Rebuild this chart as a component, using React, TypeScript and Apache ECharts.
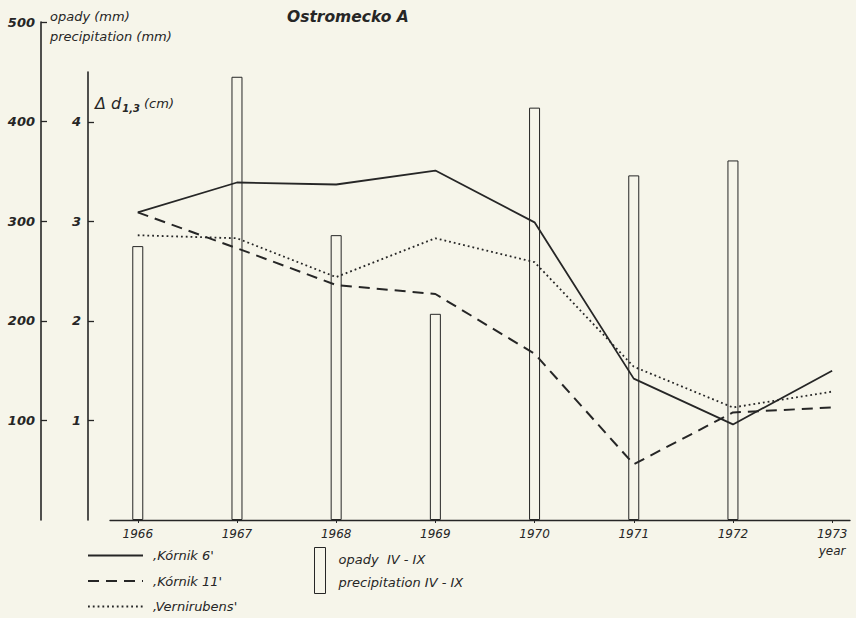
import React, { useEffect, useRef } from "react";
import * as echarts from "echarts";

const years = [1966, 1967, 1968, 1969, 1970, 1971, 1972, 1973];
const yearLabels = ["1966", "1967", "1968", "1969", "1970", "1971", "1972", "1973"];
const precipYears = [1966, 1967, 1968, 1969, 1970, 1971, 1972];
const precipitation = [275, 445, 286, 207, 414, 346, 361];
const kornik6 = [3.09, 3.39, 3.37, 3.51, 2.99, 1.42, 0.96, 1.5];
const kornik11 = [3.09, 2.73, 2.36, 2.27, 1.67, 0.56, 1.08, 1.13];
const vernirubens = [2.86, 2.83, 2.44, 2.83, 2.59, 1.54, 1.13, 1.29];
const precipTicks = [100, 200, 300, 400, 500];
const diamTicks = [1, 2, 3, 4];

const NAME_K6 = "\u201aKórnik 6'";
const NAME_K11 = "\u201aKórnik 11'";
const NAME_V = "\u201aVernirubens'";
const NAME_P = "opady IV - IX";

const INK = "#262626";
const PAPER = "#f6f5ea";
const FONT = "DejaVu Sans";

export default function App() {
  const ref = useRef<HTMLDivElement>(null);
  useEffect(() => {
    document.body.style.margin = "0";
    const chart = echarts.init(ref.current!, undefined, { renderer: "svg" });
    const xMin = 1965.72;
    const xMax = 1973.18;
    const pair = (xs: number[], ys: number[]) => xs.map((x, i) => [x, ys[i]]);
    chart.setOption({
      animation: false,
      backgroundColor: PAPER,
      textStyle: { fontFamily: FONT, color: INK },
      title: {
        text: "Ostromecko A",
        left: 282,
        top: 4,
        textStyle: { fontFamily: FONT, fontSize: 15.5, fontStyle: "italic", fontWeight: "bold", color: INK },
      },
      grid: [
        { left: 110, right: 6, top: 22, bottom: 98, outerBoundsMode: "none", containLabel: false },
        { left: 110, right: 6, top: 72, bottom: 98, outerBoundsMode: "none", containLabel: false },
      ],
      legend: [
        {
          data: [NAME_K6, NAME_K11, NAME_V],
          orient: "vertical",
          left: 87,
          top: 549,
          padding: 0,
          itemWidth: 55,
          itemHeight: 14,
          itemGap: 12.5,
          itemStyle: { color: "rgba(0,0,0,0)", borderColor: "rgba(0,0,0,0)", borderWidth: 0 },
          textStyle: { fontFamily: FONT, fontSize: 13, fontStyle: "italic", color: INK, padding: [0, 0, 0, 5] },
        },
        {
          data: [NAME_P],
          left: 314,
          top: 547,
          padding: 0,
          itemWidth: 11,
          itemHeight: 46,
          icon: "rect",
          itemStyle: { color: PAPER, borderColor: INK, borderWidth: 1 },
          formatter: () => "opady  IV - IX\nprecipitation IV - IX",
          textStyle: { fontFamily: FONT, fontSize: 13, fontStyle: "italic", color: INK, lineHeight: 23, padding: [0, 0, 0, 8] },
        },
      ],
      xAxis: [
        {
          type: "value",
          gridIndex: 0,
          min: xMin,
          max: xMax,
          splitLine: { show: false },
          axisLine: { show: true, onZero: false, lineStyle: { color: INK, width: 1.3 } },
          axisTick: { show: true, customValues: years, length: 3, lineStyle: { color: INK } },
          axisLabel: {
            customValues: years,
            margin: 5,
            fontFamily: FONT,
            fontSize: 12,
            fontStyle: "italic",
            color: INK,
            lineHeight: 17,
            formatter: (v: number) => {
              const i = years.indexOf(Math.round(v));
              const t = i >= 0 ? yearLabels[i] : "";
              return i === years.length - 1 ? t + "\nyear" : t;
            },
          },
        },
        {
          type: "value",
          gridIndex: 1,
          min: xMin,
          max: xMax,
          show: false,
          splitLine: { show: false },
        },
      ],
      yAxis: [
        {
          type: "value",
          gridIndex: 0,
          position: "left",
          offset: 69,
          min: 0,
          max: 500,
          splitLine: { show: false },
          axisLine: { show: true, lineStyle: { color: INK, width: 1.6 } },
          axisTick: { show: true, inside: true, length: 6, customValues: precipTicks, lineStyle: { color: INK, width: 1.3 } },
          axisLabel: {
            customValues: precipTicks,
            margin: 6,
            fontFamily: FONT,
            fontSize: 13,
            fontStyle: "italic",
            fontWeight: "bold",
            color: INK,
          },
          name: "opady (mm)\nprecipitation (mm)",
          nameLocation: "end",
          nameGap: -4,
          nameTextStyle: {
            fontFamily: FONT,
            fontSize: 13,
            fontStyle: "italic",
            color: INK,
            align: "left",
            verticalAlign: "middle",
            lineHeight: 20,
            padding: [0, 0, 0, 9],
          },
        },
        {
          type: "value",
          gridIndex: 1,
          position: "left",
          offset: 22,
          min: 0,
          max: 4.5,
          splitLine: { show: false },
          axisLine: { show: true, lineStyle: { color: INK, width: 1.6 } },
          axisTick: { show: true, inside: true, length: 6, customValues: diamTicks, lineStyle: { color: INK, width: 1.3 } },
          axisLabel: {
            customValues: diamTicks,
            margin: 7,
            fontFamily: FONT,
            fontSize: 13,
            fontStyle: "italic",
            fontWeight: "bold",
            color: INK,
          },
          name: "{a|\u0394 d}{b|1,3}{c| (cm)}",
          nameLocation: "end",
          nameGap: -31,
          nameTextStyle: {
            align: "left",
            verticalAlign: "middle",
            padding: [0, 0, 0, 7],
            rich: {
              a: { fontFamily: FONT, fontSize: 16, fontStyle: "italic", color: INK, lineHeight: 22, verticalAlign: "middle" },
              b: { fontFamily: FONT, fontSize: 10, fontStyle: "italic", fontWeight: "bold", color: INK, lineHeight: 22, verticalAlign: "bottom", padding: [0, 0, 1, 1] },
              c: { fontFamily: FONT, fontSize: 13, fontStyle: "italic", color: INK, lineHeight: 22, verticalAlign: "middle" },
            },
          },
        },
      ],
      series: [
        {
          name: NAME_P,
          type: "bar",
          xAxisIndex: 0,
          yAxisIndex: 0,
          barWidth: 11,
          data: pair(precipYears, precipitation),
          itemStyle: { color: PAPER, borderColor: INK, borderWidth: 1 },
          z: 1,
        },
        {
          name: NAME_K6,
          type: "line",
          xAxisIndex: 1,
          yAxisIndex: 1,
          symbol: "none",
          data: pair(years, kornik6),
          lineStyle: { color: INK, width: 1.8, type: "solid" },
          itemStyle: { color: INK },
          z: 3,
        },
        {
          name: NAME_K11,
          type: "line",
          xAxisIndex: 1,
          yAxisIndex: 1,
          symbol: "none",
          data: pair(years, kornik11),
          lineStyle: { color: INK, width: 2, type: [11, 7] },
          itemStyle: { color: INK },
          z: 3,
        },
        {
          name: NAME_V,
          type: "line",
          xAxisIndex: 1,
          yAxisIndex: 1,
          symbol: "none",
          data: pair(years, vernirubens),
          lineStyle: { color: INK, width: 1.8, type: [1.8, 3] },
          itemStyle: { color: INK },
          z: 3,
        },
      ],
    });
    return () => chart.dispose();
  }, []);
  return <div ref={ref} style={{ width: 856, height: 618, background: PAPER }} />;
}
